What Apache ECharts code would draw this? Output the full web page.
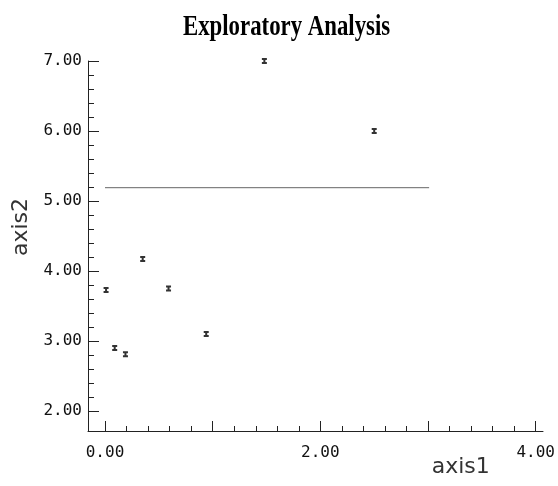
<!DOCTYPE html>
<html>
<head>
<meta charset="utf-8">
<script src="https://cdn.jsdelivr.net/npm/echarts@6/dist/echarts.min.js"></script>
<style>html,body{margin:0;padding:0;background:#fff;}#c{width:558px;height:486px;}</style>
</head>
<body>
<div id="c"></div>
<script>
const titleText = 'Exploratory Analysis';
const xName = 'axis1';
const yName = 'axis2';
const pointX = [0.01, 0.09, 0.19, 0.35, 0.59, 0.94, 1.48, 2.50];
const pointY = [3.73, 2.90, 2.81, 4.17, 3.75, 3.10, 7.00, 6.00];
const refLineX = [0, 3.01];
const refLineY = [5.19, 5.19];
const xLabelValues = [0, 2, 4];

const chart = echarts.init(document.getElementById('c'), null, {renderer: 'canvas'});
const pts = pointX.map((x, i) => [x, pointY[i]]);
const line = refLineX.map((x, i) => [x, refLineY[i]]);
const labelFont = {fontFamily: 'DejaVu Sans Mono', fontSize: 16, color: '#111'};

chart.setOption({
  animation: false,
  backgroundColor: '#fff',
  graphic: [{
    type: 'text', left: 183, top: 12, scaleX: 0.76, scaleY: 1,
    style: {text: titleText, fontFamily: 'Liberation Serif', fontSize: 30, fontWeight: 'bold', fill: '#000'}
  }],
  grid: [
    {left: 105, right: 19, top: 61, bottom: 75},
    {left: 88, right: 15, top: 61, bottom: 55}
  ],
  xAxis: [
    {
      gridIndex: 0, type: 'value', min: 0, max: 4, interval: 1, offset: 20,
      axisLine: {show: false, onZero: false},
      axisTick: {show: true, inside: true, length: 10, lineStyle: {color: '#222'}},
      minorTick: {show: true, splitNumber: 5, length: 5, lineStyle: {color: '#222'}},
      splitLine: {show: false},
      axisLabel: Object.assign({margin: 14, formatter: v => xLabelValues.includes(v) ? v.toFixed(2) : ''}, labelFont),
      name: xName, nameLocation: 'end', nameGap: -75,
      nameTextStyle: {fontFamily: 'DejaVu Sans', fontSize: 22, color: '#333', verticalAlign: 'top', align: 'center', padding: [25, 0, 0, 0]}
    },
    {
      gridIndex: 1, type: 'value', min: -0.157, max: 4.04,
      axisLine: {show: true, onZero: false, lineStyle: {color: '#222', width: 1}},
      axisTick: {show: false}, axisLabel: {show: false}, splitLine: {show: false}
    }
  ],
  yAxis: [
    {
      gridIndex: 0, type: 'value', min: 2, max: 7, interval: 1, offset: 17,
      axisLine: {show: false, onZero: false},
      axisTick: {show: true, inside: true, length: 11, lineStyle: {color: '#222'}},
      minorTick: {show: true, splitNumber: 5, length: 6, lineStyle: {color: '#222'}},
      splitLine: {show: false},
      axisLabel: Object.assign({margin: 6, formatter: v => v.toFixed(2)}, labelFont),
      name: yName, nameLocation: 'middle', nameGap: 54, nameRotate: 90,
      nameTextStyle: {fontFamily: 'DejaVu Sans', fontSize: 22, color: '#333', padding: [0, 0, 0, 18]}
    },
    {
      gridIndex: 1, type: 'value', min: 1.714, max: 7,
      axisLine: {show: true, onZero: false, lineStyle: {color: '#222', width: 1}},
      axisTick: {show: false}, axisLabel: {show: false}, splitLine: {show: false}
    }
  ],
  series: [
    {
      type: 'line', xAxisIndex: 0, yAxisIndex: 0, data: line,
      symbol: 'none', lineStyle: {color: '#666', width: 1}, silent: true
    },
    {
      type: 'scatter', xAxisIndex: 0, yAxisIndex: 0, data: pts,
      symbol: 'path://M0,0H5V2H3.5V4H5V6H0V4H1.5V2H0Z', symbolSize: [5, 6],
      itemStyle: {color: '#000'}
    }
  ]
});
</script>
</body>
</html>
